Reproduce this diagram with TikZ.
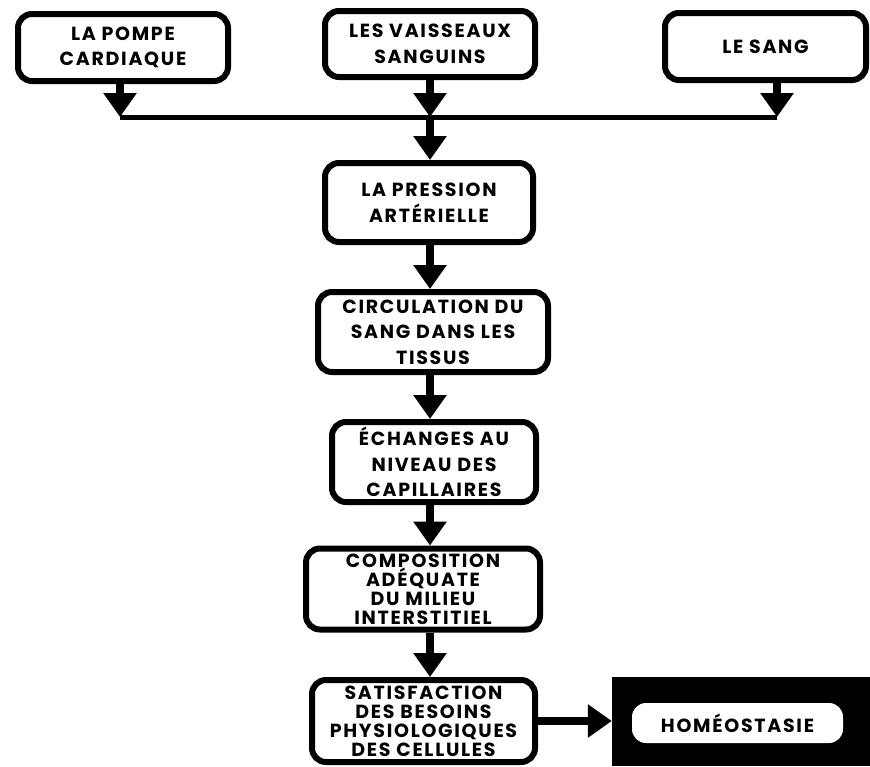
\documentclass[tikz,border=0pt]{standalone}
\usepackage{fontspec}
\setmainfont{Poppins}[LetterSpace=9]
\usetikzlibrary{arrows.meta}
\tikzset{
  box/.style={draw=black, line width=6pt, rounded corners=14pt, align=center, inner sep=0pt,
    font=\bfseries\fontsize{19}{25.5}\selectfont},
  tight/.style={font=\bfseries\fontsize{19}{19}\selectfont},
  flow/.style={line width=8pt, -{Triangle[length=24pt,width=32pt]}},
  bar/.style={line width=5pt},
}
\begin{document}
\begin{tikzpicture}[x=1pt,y=-1pt]
\useasboundingbox (0,0) rectangle (870,766);
\node[box, minimum width=210, minimum height=67] (b1) at (123,47.5) {LA POMPE\\CARDIAQUE};
\node[box, minimum width=210, minimum height=66] (b2) at (430,44) {LES VAISSEAUX\\SANGUINS};
\node[box, minimum width=201, minimum height=67] (b3) at (765.5,46.5) {LE SANG};
\node[box, minimum width=208, minimum height=79] (b4) at (429,202.5) {LA PRESSION\\ARTÉRIELLE};
\node[box, minimum width=230, minimum height=80] (b5) at (433,332) {CIRCULATION DU\\SANG DANS LES\\TISSUS};
\node[box, minimum width=204, minimum height=80] (b6) at (434,462) {ÉCHANGES AU\\NIVEAU DES\\CAPILLAIRES};
\node[box, tight, minimum width=234, minimum height=81] (b7) at (423,589) {COMPOSITION\\ADÉQUATE\\DU MILIEU\\INTERSTITIEL};
\node[box, tight, minimum width=223, minimum height=82] (b8) at (423.5,721) {SATISFACTION\\DES BESOINS\\PHYSIOLOGIQUES\\DES CELLULES};
\node[fill=black, minimum width=258, minimum height=89, inner sep=0pt] (hb) at (741,721.5) {};
\node[fill=white, rounded corners=14pt, minimum width=211, minimum height=40, inner sep=0pt,
  font=\bfseries\fontsize{19}{20}\selectfont] (h) at (737.5,723) {HOMÉOSTASIE};
\coordinate (j1) at (120,117);
\coordinate (j2) at (430,117);
\coordinate (j3) at (777,117);
\coordinate (col) at (430,0);
\draw[bar] (j1) -- (j3);
\draw[flow] (b1.south -| j1) -- (j1);
\draw[flow] (b2.south -| j2) -- (j2);
\draw[flow] (b3.south -| j3) -- (j3);
\draw[flow] (j2) -- (b4.north -| j2);
\draw[flow] (b4.south -| col) -- (b5.north -| col);
\draw[flow] (b5.south -| col) -- (b6.north -| col);
\draw[flow] (b6.south -| col) -- (b7.north -| col);
\draw[flow] (b7.south -| col) -- (b8.north -| col);
\draw[flow] (b8.east) -- (b8.east -| hb.west);
\end{tikzpicture}
\end{document}
